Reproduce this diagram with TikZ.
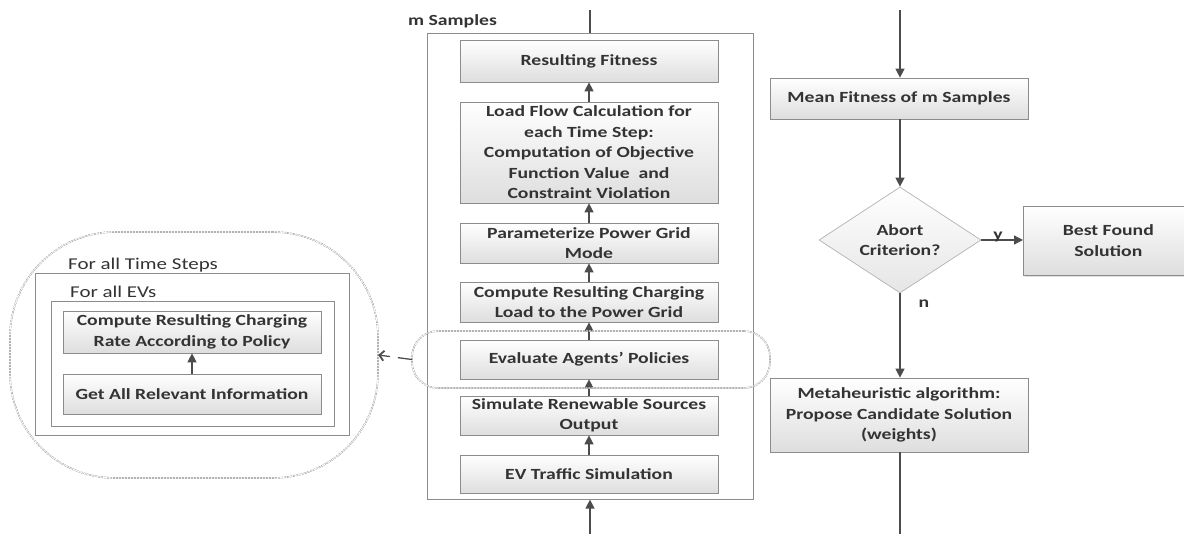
\documentclass[tikz,border=0pt]{standalone}
\usepackage{fontspec}
\setmainfont{Carlito}[FakeStretch=1.27]
\usetikzlibrary{shapes.geometric,arrows.meta,shadows}
\begin{document}
\begin{tikzpicture}[x=1pt,y=-1pt,
  font=\fontsize{15.5}{20.5}\selectfont\bfseries,
  txt/.style={text=black!80},
  pbox/.style={draw=black!45, line width=0.7pt, top color=white, bottom color=black!13,
    drop shadow={opacity=0.25,shadow xshift=1.2pt,shadow yshift=-1.2pt},
    align=center, inner sep=1pt, txt},
  frame/.style={draw=black!45, line width=0.6pt},
  conn/.style={draw=black!70, line width=1.3pt, -{Triangle[length=9pt,width=9pt]}},
  plain/.style={draw=black!70, line width=1.3pt},
  dash2/.style={draw=black!45, line width=0.4pt, double=white, double distance=0.8pt, dash pattern=on 2pt off 1pt},
  lab/.style={inner sep=0pt, txt},
  reglab/.style={lab, font=\fontsize{16.5}{20}\selectfont\mdseries}
]
\useasboundingbox (0,0) rectangle (1184,534);

% ---- middle column ----
\node[frame, minimum width=326pt, minimum height=466pt, anchor=north west] (ms) at (427,33) {};
\node[lab, anchor=base west] (mslab) at (408,26) {m Samples};
\coordinate (topin) at (590,10);
\coordinate (botin) at (590,534);

\node[pbox, minimum width=258pt, minimum height=42pt] (rf) at (589,61) {Resulting Fitness};
\node[pbox, minimum width=258pt, minimum height=101pt] (lf) at (589,152.5) {Load Flow Calculation for\\each Time Step:\\Computation of Objective\\Function Value\ \ and\\Constraint Violation};
\node[pbox, minimum width=258pt, minimum height=40pt] (pg) at (589,243) {Parameterize Power Grid\\Mode};
\node[pbox, minimum width=258pt, minimum height=40pt] (cl) at (589,302) {Compute Resulting Charging\\Load to the Power Grid};
\node[pbox, minimum width=258pt, minimum height=39pt] (ev) at (589,359.5) {Evaluate Agents’ Policies};
\node[pbox, minimum width=258pt, minimum height=39pt] (sr) at (589,415.5) {Simulate Renewable Sources\\Output};
\node[pbox, minimum width=258pt, minimum height=38pt] (tr) at (589,474) {EV Traffic Simulation};

\draw[plain] (topin) -- (590,33);
\draw[conn] (botin) -- (ms.south -| botin);
\draw[conn] (tr) -- (sr);
\draw[conn] (sr) -- (ev);
\draw[conn] (ev) -- (cl);
\draw[conn] (cl) -- (pg);
\draw[conn] (pg) -- (lf);
\draw[conn] (lf) -- (rf);

% dashed highlight around Evaluate
\node[dash2, rounded corners=26pt, minimum width=358pt, minimum height=57pt] (evring) at (591,359.5) {};

% ---- left detail ----
\node[dash2, rounded corners=105pt, minimum width=368pt, minimum height=246pt] (blob) at (194,355) {};
\node[frame, minimum width=314pt, minimum height=162pt, anchor=north west] (ts) at (35,273) {};
\node[reglab, anchor=base west] (tslab) at (68,270) {For all Time Steps};
\node[frame, minimum width=283pt, minimum height=125pt, anchor=north west] (evs) at (51,301) {};
\node[reglab, anchor=base west] (evslab) at (70,298) {For all EVs};
\node[pbox, minimum width=258pt, minimum height=42pt] (cr) at (192,332) {Compute Resulting Charging\\Rate According to Policy};
\node[pbox, minimum width=258pt, minimum height=40pt] (ga) at (192,394) {Get All Relevant Information};
\draw[conn] (ga) -- (cr);
\draw[draw=black!70, line width=1.3pt, dash pattern=on 14pt off 8pt, -{Straight Barb[length=4.5pt,width=10pt,line width=1.8pt]}] (evring.west) -- (blob.east);

% ---- right column ----
\coordinate (rtop) at (900,10);
\coordinate (rbot) at (900,534);
\node[pbox, minimum width=258pt, minimum height=41pt] (mf) at (899,98.5) {Mean Fitness of m Samples};
\node[diamond, aspect=1.53, draw=black!30, line width=0.7pt, top color=white, bottom color=black!10,
  minimum width=162pt, minimum height=106pt, inner sep=0pt, align=center, txt] (ab) at (900,240) {Abort\\Criterion?};
\node[pbox, minimum width=170pt, minimum height=69pt, anchor=north west] (bf) at (1023,206) {Best Found\\Solution};
\node[pbox, minimum width=258pt, minimum height=74pt] (mh) at (899,415) {Metaheuristic algorithm:\\Propose Candidate Solution\\(weights)};
\draw[conn] (rtop) -- (mf.north -| rtop);
\draw[conn] (mf.south -| rtop) -- (ab.north);
\draw[conn] (ab.east) -- node[lab, above, pos=0.4, yshift=-3pt] (ylab) {y} (bf.west |- ab.east);
\draw[conn] (ab.south) -- node[lab, pos=0.12, right=18pt] (nlab) {n} (mh.north -| ab.south);
\draw[plain] (mh.south -| rbot) -- (rbot);
\end{tikzpicture}
\end{document}
